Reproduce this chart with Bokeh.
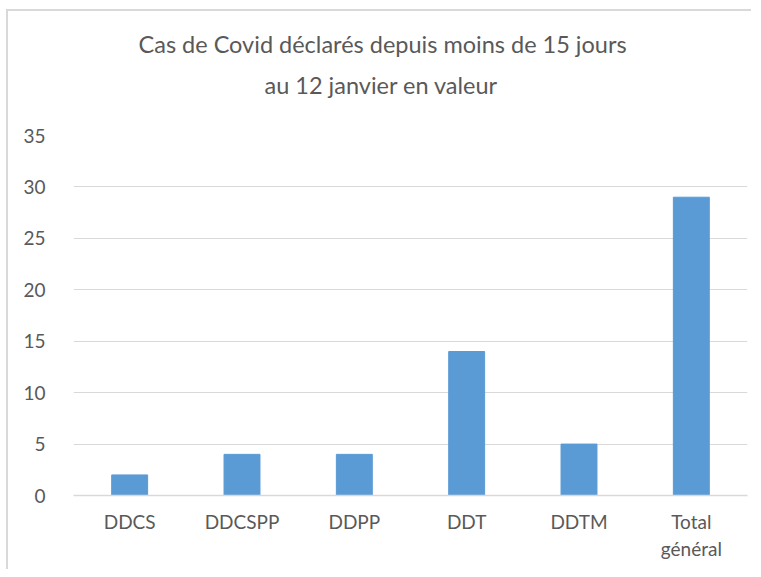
from bokeh.plotting import figure
from bokeh.models import Range1d, FixedTicker, Title
from bokeh.embed import file_html
from bokeh.resources import INLINE

categories = ["DDCS", "DDCSPP", "DDPP", "DDT", "DDTM", "Total\ngénéral"]
cases = [2, 4, 4, 14, 5, 29]
y_ticks = [0, 5, 10, 15, 20, 25, 30, 35]
title_lines = ["Cas de Covid déclarés depuis moins de 15 jours", "au 12 janvier en valeur"]

FONT = "Lato"
TXT = "#595959"
GRID = "#D9D9D9"

xs = list(range(len(categories)))

p = figure(width=745, height=560, output_backend="svg", toolbar_location=None,
           x_range=Range1d(-0.5, len(categories) - 0.5), y_range=Range1d(0, 35),
           min_border_left=65, min_border_right=6, min_border_top=124, min_border_bottom=76)
p.styles = {"margin-left": "8px", "margin-top": "11px",
            "box-shadow": "-2px -2px 0px 0px #D9D9D9"}
p.outline_line_color = None
p.background_fill_color = "white"

p.vbar(x=xs, top=cases, width=0.32, color="#5B9BD5")

p.xaxis.ticker = FixedTicker(ticks=xs)
p.xaxis.major_label_overrides = {i: c for i, c in enumerate(categories)}
p.xaxis.axis_line_color = GRID
p.xaxis.axis_line_width = 1.5
p.xaxis.major_tick_line_color = None
p.xaxis.minor_tick_line_color = None
p.xaxis.major_label_text_font = FONT
p.xaxis.major_label_text_font_size = "19px"
p.xaxis.major_label_text_color = TXT
p.xaxis.major_label_standoff = 8

p.yaxis.ticker = FixedTicker(ticks=y_ticks)
p.yaxis.axis_line_color = None
p.yaxis.major_tick_line_color = None
p.yaxis.minor_tick_line_color = None
p.yaxis.major_label_text_font = FONT
p.yaxis.major_label_text_font_size = "19px"
p.yaxis.major_label_text_color = TXT
p.yaxis.major_label_standoff = 22

p.xgrid.grid_line_color = None
p.ygrid.grid_line_color = GRID
p.ygrid.grid_line_width = 1.2

# spacer between frame and title
p.add_layout(Title(text=" ", text_font_size="1px", standoff=34), "above")
for txt, so, off in zip(reversed(title_lines), [0, 22], [191, 65]):
    p.add_layout(Title(text=txt, align="left", offset=off, text_font=FONT,
                       text_font_size="23.5px", text_color=TXT, text_font_style="normal",
                       standoff=so), "above")

open("out.html", "w").write(file_html(p, INLINE))
